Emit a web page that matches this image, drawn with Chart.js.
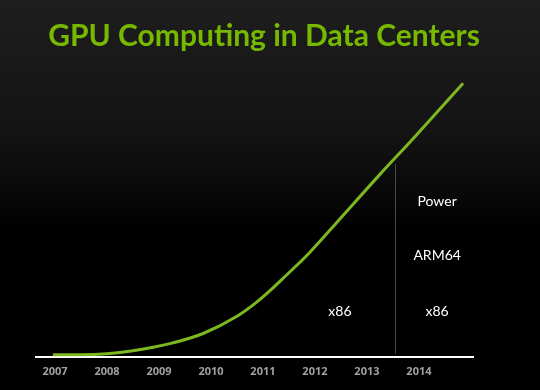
<!DOCTYPE html>
<html>
<head>
<meta charset="utf-8">
<script src="https://cdn.jsdelivr.net/npm/chart.js@4"></script>
<style>
  html, body { margin: 0; padding: 0; }
  body {
    width: 540px; height: 390px; overflow: hidden;
    background: linear-gradient(to bottom, #1e1e1e 0%, #131313 35%, #000 60%, #000 100%);
  }
  #wrap { position: relative; width: 540px; height: 390px; }
  #title {
    position: absolute; left: 0; top: 16px; width: 528px; text-align: center;
    font: bold 30px Lato, "Open Sans", sans-serif; color: #76b900;
  }
  canvas { position: absolute; left: 0; top: 0; }
</style>
</head>
<body>
<div id="wrap">
  <canvas id="myChart" width="540" height="390"></canvas>
  <div id="title">GPU Computing in Data Centers</div>
</div>
<script>
// year ticks on the bottom axis
const years = [2007, 2008, 2009, 2010, 2011, 2012, 2013, 2014];

// growth curve (x = year, y = relative height)
const curveX = [2006.96, 2007.5, 2008.0, 2008.5, 2009.21, 2009.85, 2010.5, 2010.88, 2011.13, 2011.46, 2011.9, 2012.48, 2013.25, 2013.9, 2014.85];
const curveY = [2, 2, 3, 6, 13, 23, 40, 54, 65, 81, 103, 136, 180, 216, 270];

// divider between the two platform columns
const dividerX = [2013.55, 2013.55];
const dividerY = [3, 190];

// platform labels
const platformNames = ['x86', 'x86', 'ARM64', 'Power'];
const platformX = [2012.48, 2014.35, 2014.35, 2014.35];
const platformY = [45, 45, 100, 153];

let ctx = document.getElementById('myChart').getContext('2d');

// writes the platform names at their data positions
const platformLabels = {
    id: 'platformLabels',
    afterDatasetsDraw(chart) {
        const c = chart.ctx, xs = chart.scales.x, ys = chart.scales.y;
        c.save();
        c.fillStyle = '#ffffff';
        c.font = '14px Lato, "Open Sans", sans-serif';
        c.textAlign = 'center';
        c.textBaseline = 'middle';
        platformNames.forEach((name, i) => {
            c.fillText(name, xs.getPixelForValue(platformX[i]), ys.getPixelForValue(platformY[i]));
        });
        c.restore();
    }
};

let myChart = new Chart(ctx, {
    type: 'line',
    data: {
        datasets: [{
            data: curveX.map((x, i) => ({x: x, y: curveY[i]})),
            borderColor: '#7cb820',
            borderWidth: 3,
            pointRadius: 0,
            cubicInterpolationMode: 'monotone',
            fill: false
        }, {
            data: dividerX.map((x, i) => ({x: x, y: dividerY[i]})),
            borderColor: '#4a4a4a',
            borderWidth: 1,
            pointRadius: 0,
            fill: false
        }]
    },
    options: {
        responsive: false,
        animation: false,
        layout: { padding: { left: 36, right: 67, top: 70, bottom: 4 } },
        plugins: {
            legend: { display: false },
            tooltip: { enabled: false }
        },
        scales: {
            x: {
                type: 'linear',
                min: 2006.635,
                max: 2015.04,
                afterBuildTicks: scale => { scale.ticks = years.map(v => ({value: v})); },
                grid: { display: false, drawTicks: false },
                border: { color: '#ffffff', width: 2 },
                ticks: {
                    color: '#a0a0a0',
                    padding: 8,
                    maxRotation: 0,
                    autoSkip: false,
                    font: { family: '"Open Sans", Lato, sans-serif', size: 11, weight: 'bold' },
                    callback: v => String(v)
                }
            },
            y: {
                display: false,
                min: 0,
                max: 283
            }
        }
    },
    plugins: [platformLabels]
});
</script>
</body>
</html>
